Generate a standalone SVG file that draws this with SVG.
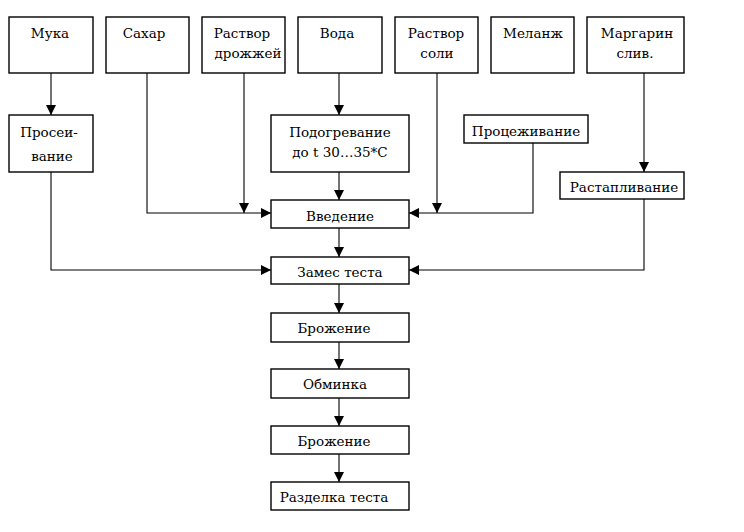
<svg xmlns="http://www.w3.org/2000/svg" width="744" height="532" viewBox="0 0 744 532">
<style>
.box{fill:#fff;stroke:#000;stroke-width:1.4}
.t{font-family:"DejaVu Serif","Liberation Serif",serif;font-size:13.5px;fill:#000;text-anchor:middle}
.c{fill:none;stroke:#000;stroke-width:1.1}
</style>
<defs>
<marker id="a" viewBox="0 0 10 10" refX="10" refY="5" markerWidth="10" markerHeight="10" markerUnits="userSpaceOnUse" orient="auto">
<path d="M0,0 L10,5 L0,10 Z" fill="#000"/>
</marker>
</defs>
<rect width="744" height="532" fill="#fff"/>
<g id="connectors">
<path class="c" d="M51,73 V115" marker-end="url(#a)"/>
<path class="c" d="M339,73 V115" marker-end="url(#a)"/>
<path class="c" d="M644,73 V172" marker-end="url(#a)"/>
<path class="c" d="M147,73 V213 H271" marker-end="url(#a)"/>
<path class="c" d="M244,73 V213" marker-end="url(#a)"/>
<path class="c" d="M437,73 V213" marker-end="url(#a)"/>
<path class="c" d="M533,143 V213 H409" marker-end="url(#a)"/>
<path class="c" d="M339,172 V200" marker-end="url(#a)"/>
<path class="c" d="M339,228 V257" marker-end="url(#a)"/>
<path class="c" d="M51,172 V270 H271" marker-end="url(#a)"/>
<path class="c" d="M644,199 V270 H409" marker-end="url(#a)"/>
<path class="c" d="M339,284 V313" marker-end="url(#a)"/>
<path class="c" d="M339,342 V369" marker-end="url(#a)"/>
<path class="c" d="M339,398 V426" marker-end="url(#a)"/>
<path class="c" d="M339,454 V482" marker-end="url(#a)"/>
</g>
<g id="muka"><rect class="box" x="9" y="17" width="84" height="56"/><text class="t" x="50" y="38">Мука</text></g>
<g id="sahar"><rect class="box" x="106" y="17" width="83" height="56"/><text class="t" x="144" y="38">Сахар</text></g>
<g id="drozhzhi"><rect class="box" x="202" y="17" width="83" height="56"/><text class="t" x="242" y="38">Раствор</text><text class="t" x="248" y="58">дрожжей</text></g>
<g id="voda"><rect class="box" x="298" y="17" width="84" height="56"/><text class="t" x="337" y="38">Вода</text></g>
<g id="soli"><rect class="box" x="395" y="17" width="83" height="56"/><text class="t" x="436" y="38">Раствор</text><text class="t" x="437" y="58">соли</text></g>
<g id="melanzh"><rect class="box" x="491" y="17" width="83" height="56"/><text class="t" x="533" y="38">Меланж</text></g>
<g id="margarin"><rect class="box" x="587" y="17" width="97" height="56"/><text class="t" x="637" y="38">Маргарин</text><text class="t" x="635" y="58">слив.</text></g>
<g id="proseivanie"><rect class="box" x="9" y="115" width="84" height="57"/><text class="t" x="49" y="137">Просеи-</text><text class="t" x="52" y="161">вание</text></g>
<g id="podogrevanie"><rect class="box" x="271" y="115" width="138" height="57"/><text class="t" x="340" y="137">Подогревание</text><text class="t" x="340" y="157">до t 30…35*С</text></g>
<g id="procezhivanie"><rect class="box" x="464" y="115" width="124" height="28"/><text class="t" x="526" y="136">Процеживание</text></g>
<g id="rastaplivanie"><rect class="box" x="560" y="172" width="124" height="27"/><text class="t" x="624" y="192">Растапливание</text></g>
<g id="vvedenie"><rect class="box" x="271" y="200" width="138" height="28"/><text class="t" x="340" y="221">Введение</text></g>
<g id="zames"><rect class="box" x="271" y="257" width="138" height="27"/><text class="t" x="340" y="277">Замес теста</text></g>
<g id="brozhenie1"><rect class="box" x="271" y="313" width="138" height="29"/><text class="t" x="334" y="333">Брожение</text></g>
<g id="obminka"><rect class="box" x="271" y="369" width="138" height="29"/><text class="t" x="335" y="389">Обминка</text></g>
<g id="brozhenie2"><rect class="box" x="271" y="426" width="138" height="28"/><text class="t" x="334" y="446">Брожение</text></g>
<g id="razdelka"><rect class="box" x="271" y="482" width="138" height="28"/><text class="t" x="334" y="502">Разделка теста</text></g>
</svg>
